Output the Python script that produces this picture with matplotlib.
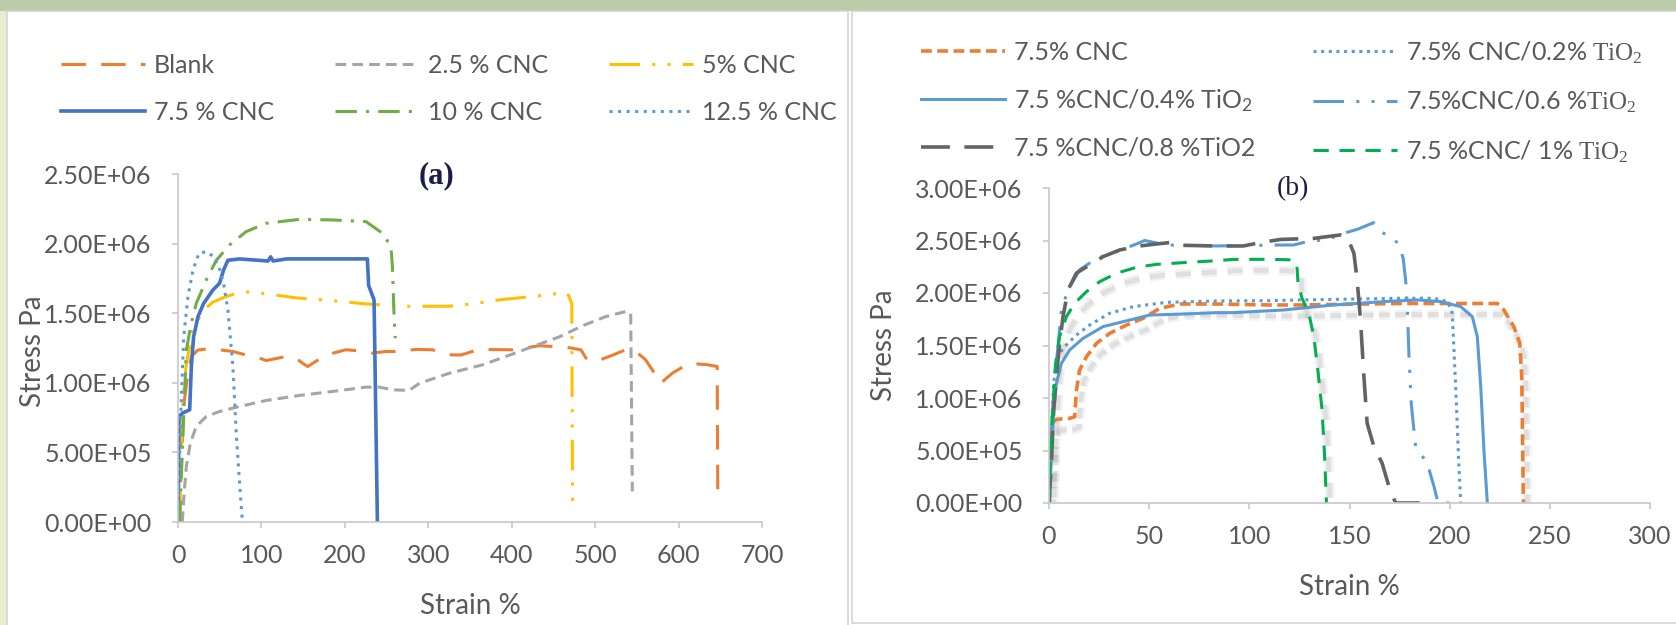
import matplotlib
matplotlib.use("Agg")
import matplotlib.pyplot as plt
import matplotlib.patheffects as pe
from matplotlib.patches import Rectangle
from matplotlib.ticker import FuncFormatter, MultipleLocator

plt.rcParams['font.family'] = ['Lato', 'DejaVu Sans']
plt.rcParams['mathtext.fontset'] = 'custom'
plt.rcParams['mathtext.rm'] = 'Liberation Serif'
plt.rcParams['mathtext.sf'] = 'Lato'
plt.rcParams['mathtext.it'] = 'Liberation Serif:italic'

# ---- panel (a): strain % / stress Pa ----
blank_x = [1.2, 4, 7.2, 10.8, 16, 24, 35.9, 49.8, 65.8, 81.7, 97.7, 105.7, 125.6, 141.5,
           149.5, 155.5, 161.5, 177.5, 201, 217, 233, 249, 265, 285, 305, 321, 329.4,
           339.3, 361, 401, 433, 465, 483, 489, 501, 516.7, 536.6, 548.6, 560.5, 568.5,
           578.5, 592.5, 612.4, 634.3, 646.3, 647]
blank_y = [0, 0.40e6, 0.854e6, 1.02e6, 1.19e6, 1.236e6, 1.244e6, 1.237e6, 1.225e6, 1.20e6,
           1.177e6, 1.16e6, 1.184e6, 1.177e6, 1.14e6, 1.117e6, 1.14e6, 1.20e6, 1.237e6,
           1.23e6, 1.213e6, 1.225e6, 1.225e6, 1.24e6, 1.237e6, 1.208e6, 1.20e6, 1.20e6,
           1.24e6, 1.237e6, 1.266e6, 1.256e6, 1.237e6, 1.177e6, 1.153e6, 1.189e6, 1.237e6,
           1.225e6, 1.165e6, 1.093e6, 0.997e6, 1.069e6, 1.14e6, 1.13e6, 1.117e6, 0.172e6]

cnc25_x = [5.2, 6.8, 10, 14.8, 21.9, 33.9, 49.8, 73.8, 105.7, 145.5, 185.4, 225.3, 241.2,
           257, 277, 289.5, 325.4, 365, 398, 425, 457, 485, 512.8, 536.6, 542.6, 544.6]
cnc25_y = [0, 0.16e6, 0.40e6, 0.567e6, 0.687e6, 0.758e6, 0.794e6, 0.83e6, 0.873e6, 0.909e6,
           0.938e6, 0.969e6, 0.969e6, 0.95e6, 0.945e6, 0.997e6, 1.069e6, 1.129e6, 1.20e6,
           1.26e6, 1.33e6, 1.41e6, 1.476e6, 1.512e6, 1.50e6, 0.22e6]

cnc5_x = [2, 4, 6, 10, 17.9, 29.9, 41.9, 57.8, 77.8, 105.7, 141.5, 185.4, 225, 265, 325,
          357, 385, 425, 465, 467, 472, 473]
cnc5_y = [0, 0.52e6, 0.878e6, 1.14e6, 1.38e6, 1.52e6, 1.58e6, 1.62e6, 1.655e6, 1.64e6,
          1.61e6, 1.59e6, 1.567e6, 1.55e6, 1.55e6, 1.57e6, 1.596e6, 1.62e6, 1.648e6,
          1.643e6, 1.57e6, 0.065e6]

cnc75_x = [0, 1.2, 5.2, 14, 16, 18.7, 24, 30.7, 41.9, 49.8, 54.6, 59.8, 73.8, 108, 111,
           114, 130, 227, 228.5, 235, 239]
cnc75_y = [0, 0.758e6, 0.782e6, 0.806e6, 1.117e6, 1.33e6, 1.476e6, 1.57e6, 1.667e6,
           1.715e6, 1.81e6, 1.88e6, 1.89e6, 1.875e6, 1.905e6, 1.875e6, 1.89e6, 1.89e6,
           1.70e6, 1.595e6, 0]

cnc10_x = [2, 5.2, 10, 16, 21.9, 33.9, 45.9, 61.8, 81.7, 105.7, 145.5, 185.4, 225.3,
           245.2, 255.2, 257, 259, 260.4]
cnc10_y = [0, 0.52e6, 1.237e6, 1.43e6, 1.57e6, 1.74e6, 1.88e6, 1.99e6, 2.086e6, 2.146e6,
           2.174e6, 2.17e6, 2.158e6, 2.074e6, 1.978e6, 1.835e6, 1.476e6, 1.32e6]

cnc125_x = [0, 3.2, 6.8, 12, 17.9, 25.1, 33.9, 41.9, 49, 54.6, 59.8, 65.8, 69.8, 73.8, 77]
cnc125_y = [0, 0.758e6, 1.33e6, 1.62e6, 1.81e6, 1.93e6, 1.942e6, 1.91e6, 1.835e6,
            1.715e6, 1.524e6, 1.117e6, 0.639e6, 0.28e6, 0.017e6]

# ---- panel (b) ----
b_cnc_x = [0.3, 0.8, 1.3, 3.7, 10.3, 12.8, 13.7, 15.3, 18.7, 23.7, 30.3, 38.7, 47, 55.3,
           65.3, 83.7, 110.3, 125.5, 175.5, 223.8, 227, 232, 235, 236, 236.8]
b_cnc_y = [0, 0.378e6, 0.759e6, 0.797e6, 0.806e6, 0.822e6, 1.076e6, 1.267e6, 1.394e6,
           1.52e6, 1.616e6, 1.695e6, 1.759e6, 1.854e6, 1.895e6, 1.895e6, 1.886e6,
           1.886e6, 1.90e6, 1.90e6, 1.84e6, 1.68e6, 1.52e6, 1.20e6, 0]

ti02_x = [0, 1.2, 2.3, 4, 7.8, 13.7, 20.3, 30.3, 42, 58.7, 83.7, 110.3, 125.5, 175.5,
          192, 199, 201.3, 203, 204.7, 205.5]
ti02_y = [0, 0.632e6, 1.14e6, 1.394e6, 1.489e6, 1.60e6, 1.695e6, 1.807e6, 1.87e6,
          1.911e6, 1.924e6, 1.927e6, 1.934e6, 1.95e6, 1.95e6, 1.918e6, 1.807e6, 1.108e6,
          0.314e6, 0]

ti04_x = [0, 1.2, 2.3, 3.7, 6.2, 10.3, 17, 27, 37, 50.3, 67, 83.7, 92, 117, 142, 167,
          184, 195.5, 205.5, 211.3, 213.8, 215.5, 217.2, 218.8]
ti04_y = [0, 0.473e6, 0.854e6, 1.14e6, 1.33e6, 1.457e6, 1.568e6, 1.68e6, 1.727e6,
          1.79e6, 1.80e6, 1.813e6, 1.813e6, 1.838e6, 1.886e6, 1.918e6, 1.934e6, 1.918e6,
          1.87e6, 1.775e6, 1.584e6, 1.108e6, 0.473e6, 0]

ti06_x = [0, 0.8, 2, 4, 6.2, 9.5, 15.3, 23.7, 33.7, 43.7, 47.8, 58.7, 83.7, 114, 122,
          129, 139, 147, 154, 162, 165.5, 172, 174.7, 176.8, 178, 178.8, 179.7, 180.8,
          183, 188.8, 192.2, 194.2, 202]
ti06_y = [0, 0.473e6, 0.949e6, 1.394e6, 1.838e6, 2.03e6, 2.22e6, 2.33e6, 2.394e6,
          2.467e6, 2.50e6, 2.457e6, 2.448e6, 2.457e6, 2.457e6, 2.49e6, 2.51e6, 2.568e6,
          2.607e6, 2.67e6, 2.584e6, 2.52e6, 2.457e6, 2.33e6, 2.124e6, 1.90e6, 1.394e6,
          0.949e6, 0.537e6, 0.378e6, 0.156e6, 0, 0]

ti08_x = [0, 1.2, 2.3, 3.7, 5.3, 7, 9.5, 13.7, 20.3, 27, 35.3, 45.3, 53.7, 60.3, 67,
          83.7, 97, 105.5, 115.5, 132, 145.5, 148.8, 152.2, 153.8, 155.5, 157.2, 158.8,
          162.2, 166.3, 169.7, 173, 190.5]
ti08_y = [0, 0.378e6, 0.886e6, 1.203e6, 1.52e6, 1.775e6, 2.03e6, 2.19e6, 2.267e6,
          2.346e6, 2.41e6, 2.448e6, 2.467e6, 2.48e6, 2.454e6, 2.448e6, 2.448e6, 2.48e6,
          2.51e6, 2.52e6, 2.553e6, 2.537e6, 2.378e6, 2.124e6, 1.743e6, 1.203e6, 0.759e6,
          0.537e6, 0.378e6, 0.156e6, 0, 0]

ti1_x = [0, 0.7, 2, 3.3, 5.3, 8.7, 12.8, 18.7, 25.3, 33.7, 43.7, 53.7, 67, 83.7, 92,
         110.3, 122, 123.8, 124.3, 126.3, 129.7, 132.2, 134.2, 136.3, 137.5, 138.5]
ti1_y = [0, 0.473e6, 0.949e6, 1.33e6, 1.584e6, 1.775e6, 1.902e6, 2.013e6, 2.108e6,
         2.188e6, 2.245e6, 2.273e6, 2.289e6, 2.308e6, 2.32e6, 2.321e6, 2.315e6, 2.25e6,
         2.092e6, 1.95e6, 1.807e6, 1.584e6, 1.267e6, 0.886e6, 0.473e6, 0]

fig = plt.figure(figsize=(16.76, 6.25), dpi=100)
fig.patch.set_facecolor('white')
W, H = 1676.0, 625.0


def frect(x0, y0, x1, y1, **kw):
    # rectangle in pixel coords (top-left origin)
    fig.add_artist(Rectangle((x0 / W, 1 - y1 / H), (x1 - x0) / W, (y1 - y0) / H,
                             transform=fig.transFigure, **kw))


frect(0, 0, 1676, 11, facecolor='#bccaa8', edgecolor='none', zorder=0)
frect(0, 11, 7, 625, facecolor='#e6eed2', edgecolor='none', zorder=0)
frect(7, 11, 848, 627, facecolor='white', edgecolor='#d4d4d4', lw=1.2, zorder=0)
frect(852, 11, 1680, 623, facecolor='white', edgecolor='#d4d4d4', lw=1.2, zorder=0)

ax1 = fig.add_axes([178 / W, 1 - 522 / H, 584 / W, 348 / H])
ax2 = fig.add_axes([1049 / W, 1 - 503 / H, 601 / W, 315 / H])

sci = FuncFormatter(lambda v, p: '{:.2E}'.format(v))
for ax in (ax1, ax2):
    ax.set_facecolor('none')
    for s in ('top', 'right'):
        ax.spines[s].set_visible(False)
    for s in ('left', 'bottom'):
        ax.spines[s].set_color('#c8c8c8')
        ax.spines[s].set_linewidth(1.2)
    ax.tick_params(colors='#c8c8c8', labelcolor='#595959', labelsize=18,
                   length=4, width=1.2, pad=15)
    ax.tick_params(axis='x', pad=12)
    ax.yaxis.set_major_formatter(sci)
    ax.set_ylabel('Stress Pa', fontsize=20, color='#595959')
    ax.set_xlabel('Strain %', fontsize=20, color='#595959')

lw = 2.2
ax1.plot(blank_x, blank_y, color='#ED7D31', lw=lw, ls=(0, (8, 5)), label='Blank')
ax1.plot(cnc25_x, cnc25_y, color='#A5A5A5', lw=lw, ls=(0, (3.5, 2)), label='2.5 % CNC')
ax1.plot(cnc5_x, cnc5_y, color='#FFC000', lw=lw, ls=(0, (10, 4, 1, 4, 1, 4)), label='5% CNC')
ax1.plot(cnc75_x, cnc75_y, color='#4472C4', lw=2.6, ls='-', label='7.5 % CNC')
ax1.plot(cnc10_x, cnc10_y, color='#70AD47', lw=lw, ls=(0, (7, 3, 1, 3)), label='10 % CNC')
ax1.plot(cnc125_x, cnc125_y, color='#5B9BD5', lw=lw, ls=(0, (1, 1.8)), label='12.5 % CNC')

ax1.set_xlim(0, 700)
ax1.set_ylim(0, 2.5e6)
ax1.xaxis.set_major_locator(MultipleLocator(100))
ax1.yaxis.set_major_locator(MultipleLocator(0.5e6))
ax1.yaxis.set_label_coords((46 - 178) / 584, 0.49)
ax1.xaxis.set_label_coords(0.5, -(593 - 522) / 348)

shadow = [pe.SimpleLineShadow(offset=(3, -8), shadow_color='#808080', alpha=0.10, linewidth=7),
          pe.SimpleLineShadow(offset=(3, -8), shadow_color='#808080', alpha=0.16, linewidth=3.5),
          pe.Normal()]

ax2.plot(b_cnc_x, b_cnc_y, color='#ED7D31', lw=2.6, ls=(0, (3, 1.5)),
         label='7.5% CNC', path_effects=shadow)
ax2.plot(ti02_x, ti02_y, color='#5B9BD5', lw=lw, ls=(0, (1, 1.5)),
         label=r'7.5% CNC/0.2% $\mathrm{TiO_2}$')
ax2.plot(ti04_x, ti04_y, color='#5B9BD5', lw=lw, ls='-',
         label=r'7.5 %CNC/0.4% $\mathsf{TiO_2}$')
ax2.plot(ti06_x, ti06_y, color='#5B9BD5', lw=lw, ls=(0, (10, 4, 1, 4, 1, 4)),
         label=r'7.5%CNC/0.6 %$\mathrm{TiO_2}$')
ax2.plot(ti08_x, ti08_y, color='#636363', lw=2.6, ls=(0, (8, 4)),
         label='7.5 %CNC/0.8 %TiO2')
ax2.plot(ti1_x, ti1_y, color='#00B050', lw=lw, ls=(0, (5, 3.5)),
         label=r'7.5 %CNC/ 1% $\mathrm{TiO_2}$', path_effects=shadow)

ax2.set_xlim(0, 300)
ax2.set_ylim(0, 3e6)
ax2.xaxis.set_major_locator(MultipleLocator(50))
ax2.yaxis.set_major_locator(MultipleLocator(0.5e6))
ax2.yaxis.set_label_coords((897 - 1049) / 601, 0.5)
ax2.xaxis.set_label_coords(0.5, -(574 - 503) / 315)

# legends
h1, l1 = ax1.get_legend_handles_labels()
order1 = [0, 3, 1, 4, 2, 5]
leg1 = ax1.legend([h1[i] for i in order1], [l1[i] for i in order1], ncol=3,
                  loc='upper left', bbox_to_anchor=(61 / W, 1 - 54 / H),
                  bbox_transform=fig.transFigure, frameon=False, fontsize=18,
                  handlelength=3.36, handletextpad=0.36, columnspacing=2.44,
                  labelspacing=0.96, borderpad=0, borderaxespad=0)
for t in leg1.get_texts():
    t.set_color('#595959')

h2, l2 = ax2.get_legend_handles_labels()
order2 = [0, 2, 4, 1, 3, 5]
leg2 = ax2.legend([h2[i] for i in order2], [l2[i] for i in order2], ncol=2,
                  loc='upper left', bbox_to_anchor=(921 / W, 1 - 39 / H),
                  bbox_transform=fig.transFigure, frameon=False, fontsize=18,
                  handlelength=3.36, handletextpad=0.36, columnspacing=2.3,
                  labelspacing=0.92, borderpad=0, borderaxespad=0)
for t in leg2.get_texts():
    t.set_color('#595959')
for ln in leg2.get_lines():
    ln.set_path_effects([])

fig.text(436 / W, 1 - 176 / H, '(a)', family='Liberation Serif', fontsize=22,
         fontweight='bold', color='#1c1c4a', ha='center', va='center')
fig.text(1293 / W, 1 - 189 / H, '(b)', family='Liberation Serif', fontsize=20,
         color='#1c1c4a', ha='center', va='center')

fig.savefig('out.png', dpi=100, facecolor=fig.get_facecolor())
